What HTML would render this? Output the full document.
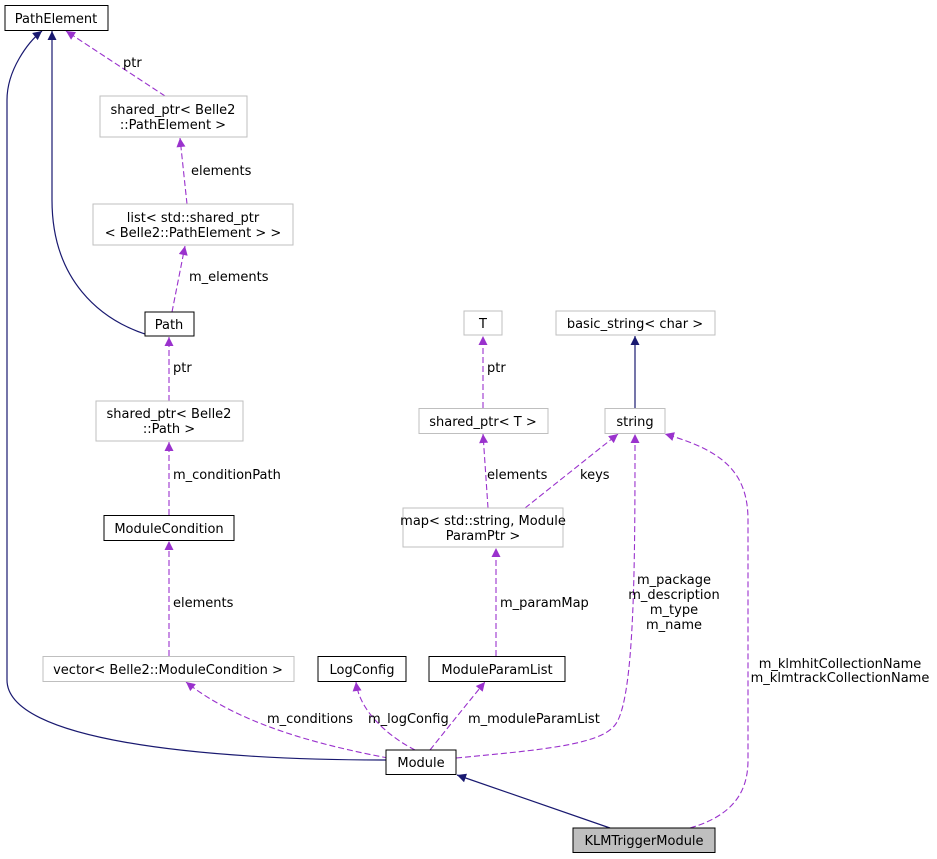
<!DOCTYPE html>
<html><head><meta charset="utf-8"><style>
html,body{margin:0;padding:0;background:#fff;}
svg{display:block;}
text{font-family:"DejaVu Sans","Liberation Sans",sans-serif;font-size:13px;fill:#000;}
</style></head><body>
<svg width="937" height="859" viewBox="0 0 937 859" xmlns="http://www.w3.org/2000/svg">
<defs>
<marker id="an" viewBox="0 0 10 10" refX="10" refY="5" markerWidth="10" markerHeight="9" markerUnits="userSpaceOnUse" orient="auto"><path d="M0,0 L10,5 L0,10 z" fill="#191970"/></marker>
<marker id="ap" viewBox="0 0 10 10" refX="10" refY="5" markerWidth="10" markerHeight="9" markerUnits="userSpaceOnUse" orient="auto"><path d="M0,0 L10,5 L0,10 z" fill="#9a32cd"/></marker>
</defs>
<g fill="none" stroke="#191970" stroke-width="1.2">
<path d="M386,760 C200,760 7,740 7,680 L7,100 C7,70 28,42 42,31" marker-end="url(#an)"/>
<path d="M148,335 C100,320 52,280 52,200 L52,31" marker-end="url(#an)"/>
<path d="M635,408 L635,336" marker-end="url(#an)"/>
<path d="M610,828 L457,775" marker-end="url(#an)"/>
</g>
<g fill="none" stroke="#9a32cd" stroke-width="1.1" stroke-dasharray="6,3">
<path d="M165,96 L66,31" marker-end="url(#ap)"/>
<path d="M187,204 L180,138" marker-end="url(#ap)"/>
<path d="M172,312 L185,246" marker-end="url(#ap)"/>
<path d="M169,401 L169,337" marker-end="url(#ap)"/>
<path d="M169,515 L169,442" marker-end="url(#ap)"/>
<path d="M169,656 L169,541" marker-end="url(#ap)"/>
<path d="M388,758 C320,745 240,725 186,682" marker-end="url(#ap)"/>
<path d="M415,750 C395,740 360,715 356,682" marker-end="url(#ap)"/>
<path d="M430,750 C450,725 470,700 485,682" marker-end="url(#ap)"/>
<path d="M496,656 L496,548" marker-end="url(#ap)"/>
<path d="M488,508 L483,434" marker-end="url(#ap)"/>
<path d="M525,508 L618,434" marker-end="url(#ap)"/>
<path d="M483,408 L483,336" marker-end="url(#ap)"/>
<path d="M456,758 C540,750 600,745 615,725 C635,700 635,560 635,434" marker-end="url(#ap)"/>
<path d="M690,828 C735,815 748,790 748,760 L748,520 C748,470 720,450 665,434" marker-end="url(#ap)"/>
</g>
<g stroke-width="1" fill="#fff">
<rect x="5" y="5.5" width="103" height="25" stroke="#000"/>
<rect x="100" y="96" width="147" height="41" stroke="#bfbfbf"/>
<rect x="93" y="204" width="200" height="41" stroke="#bfbfbf"/>
<rect x="145" y="312" width="49" height="24" stroke="#000"/>
<rect x="96" y="401" width="147" height="40" stroke="#bfbfbf"/>
<rect x="104" y="515.5" width="130" height="25" stroke="#000"/>
<rect x="43" y="656.5" width="251" height="25" stroke="#bfbfbf"/>
<rect x="318" y="656.5" width="88" height="25" stroke="#000"/>
<rect x="429" y="656.5" width="136" height="25" stroke="#000"/>
<rect x="386" y="750" width="70" height="24.5" stroke="#000"/>
<rect x="573" y="828" width="142" height="24.5" stroke="#000" fill="#bfbfbf"/>
<rect x="464" y="311" width="38" height="24" stroke="#bfbfbf"/>
<rect x="556" y="311" width="159" height="24" stroke="#bfbfbf"/>
<rect x="419" y="408.5" width="129" height="25" stroke="#bfbfbf"/>
<rect x="605" y="408.5" width="60" height="25" stroke="#bfbfbf"/>
<rect x="403" y="508" width="160" height="39" stroke="#bfbfbf"/>
</g>
<g text-anchor="middle">
<text x="56" y="23">PathElement</text>
<text x="173" y="114">shared_ptr&lt; Belle2</text>
<text x="173" y="129">::PathElement &gt;</text>
<text x="193" y="222">list&lt; std::shared_ptr</text>
<text x="193" y="237">&lt; Belle2::PathElement &gt; &gt;</text>
<text x="169" y="329">Path</text>
<text x="169" y="418">shared_ptr&lt; Belle2</text>
<text x="169" y="433">::Path &gt;</text>
<text x="169" y="533">ModuleCondition</text>
<text x="168" y="674">vector&lt; Belle2::ModuleCondition &gt;</text>
<text x="362" y="674">LogConfig</text>
<text x="497" y="674">ModuleParamList</text>
<text x="421" y="767">Module</text>
<text x="644" y="845">KLMTriggerModule</text>
<text x="483" y="328">T</text>
<text x="635" y="328">basic_string&lt; char &gt;</text>
<text x="483" y="426">shared_ptr&lt; T &gt;</text>
<text x="635" y="426">string</text>
<text x="483" y="525">map&lt; std::string, Module</text>
<text x="483" y="540">ParamPtr &gt;</text>
<text x="674" y="584">m_package</text>
<text x="674" y="599">m_description</text>
<text x="674" y="614">m_type</text>
<text x="674" y="629">m_name</text>
<text x="840" y="668">m_klmhitCollectionName</text>
<text x="840" y="682">m_klmtrackCollectionName</text>
</g>
<g>
<text x="123" y="67">ptr</text>
<text x="191" y="175">elements</text>
<text x="189" y="281">m_elements</text>
<text x="173" y="372">ptr</text>
<text x="173" y="479">m_conditionPath</text>
<text x="173" y="607">elements</text>
<text x="267" y="723">m_conditions</text>
<text x="368" y="723">m_logConfig</text>
<text x="468" y="723">m_moduleParamList</text>
<text x="500" y="607">m_paramMap</text>
<text x="487" y="479">elements</text>
<text x="580" y="479">keys</text>
<text x="487" y="372">ptr</text>
</g>
</svg>
</body></html>
